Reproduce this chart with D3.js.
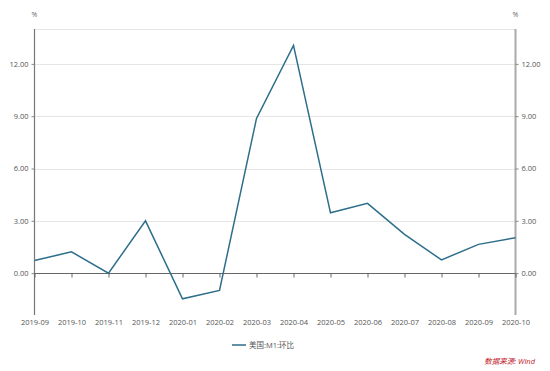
<!DOCTYPE html>
<html>
<head>
<meta charset="utf-8">
<script src="https://cdn.jsdelivr.net/npm/d3@7"></script>
<style>
  body { margin: 0; background: #fff; }
  text { font-family: "Open Sans", "Noto Sans CJK SC", sans-serif; }
</style>
</head>
<body>
<script>
// data
var months = ["2019-09","2019-10","2019-11","2019-12","2020-01","2020-02","2020-03",
              "2020-04","2020-05","2020-06","2020-07","2020-08","2020-09","2020-10"];
var m1Mom = [0.73, 1.22, 0.0, 3.0, -1.47, -0.99, 8.87, 13.06, 3.46, 4.0, 2.22, 0.76, 1.65, 2.03];
var yTicks = [0, 3, 6, 9, 12];
var seriesName = "美国:M1:环比";
var sourceText = "数据来源: Wind";

var width = 550, height = 371;
// plot box (note: "top" is reserved on window, so use plot* names)
var plotLeft = 34.5, plotRight = 515.5, plotTop = 29, plotBottom = 315;

var svg = d3.select("body").append("svg")
            .attr("width", width)
            .attr("height", height);

var x = d3.scalePoint().domain(months).range([plotLeft, plotRight]);
var y = d3.scaleLinear().domain([-2.4, 14]).range([plotBottom, plotTop]);

// gridlines
svg.append("g")
   .selectAll("line")
   .data(yTicks.filter(function(d){ return d != 0; }).concat([14]))
   .enter().append("line")
   .attr("x1", plotLeft).attr("x2", plotRight)
   .attr("y1", function(d){ return Math.round(y(d)) + 0.5; })
   .attr("y2", function(d){ return Math.round(y(d)) + 0.5; })
   .attr("stroke", "#e6e6e6");

// left / right axes
var fmt = d3.format(".2f");
var yl = svg.append("g")
   .attr("transform", "translate(" + plotLeft + ",0)")
   .call(d3.axisLeft(y).tickValues(yTicks).tickFormat(fmt).tickSize(3).tickPadding(3));
var yr = svg.append("g")
   .attr("transform", "translate(" + plotRight + ",0)")
   .call(d3.axisRight(y).tickValues(yTicks).tickFormat(fmt).tickSize(3).tickPadding(3));
yl.select(".domain").attr("d", "M0," + plotTop + "V" + plotBottom).attr("stroke", "#777").attr("stroke-width", 1.2);
yr.select(".domain").attr("d", "M0," + plotTop + "V" + plotBottom).attr("stroke", "#aaa").attr("stroke-width", 2);
[yl, yr].forEach(function(g){
  g.selectAll(".tick line").attr("stroke", "#888");
  g.selectAll(".tick text").attr("fill", "#555").attr("font-size", 7.5);
});

// zero axis with month labels
var zeroY = Math.round(y(0)) + 0.5;
var xa = svg.append("g")
   .attr("transform", "translate(0," + zeroY + ")")
   .call(d3.axisBottom(x).tickSize(4).tickPadding(plotBottom - zeroY + 1));
xa.select(".domain").attr("d", "M" + plotLeft + ",0H" + plotRight).attr("stroke", "#666");
xa.selectAll(".tick line").attr("stroke", "#666");
xa.selectAll(".tick text").attr("fill", "#555").attr("font-size", 7.5);

// unit labels
svg.append("text").attr("x", plotLeft).attr("y", 17).attr("text-anchor", "middle")
   .attr("font-size", 7).attr("fill", "#666").text("%");
svg.append("text").attr("x", plotRight).attr("y", 17).attr("text-anchor", "middle")
   .attr("font-size", 7).attr("fill", "#666").text("%");

// series line
var line = d3.line()
             .x(function(d, i){ return x(months[i]); })
             .y(function(d){ return y(d); });
svg.append("path")
   .datum(m1Mom)
   .attr("d", line)
   .attr("fill", "none")
   .attr("stroke", "#2d6e8a")
   .attr("stroke-width", 1.5);

// legend
svg.append("line").attr("x1", 232).attr("x2", 246).attr("y1", 345).attr("y2", 345)
   .attr("stroke", "#2d6e8a").attr("stroke-width", 1.5);
svg.append("text").attr("x", 249).attr("y", 348).attr("font-size", 7.5)
   .attr("fill", "#555").text(seriesName);

// source
svg.append("text").attr("x", 535).attr("y", 364).attr("text-anchor", "end")
   .attr("font-size", 7.5).attr("font-style", "italic")
   .attr("fill", "#c0202a").text(sourceText);
</script>
</body>
</html>
